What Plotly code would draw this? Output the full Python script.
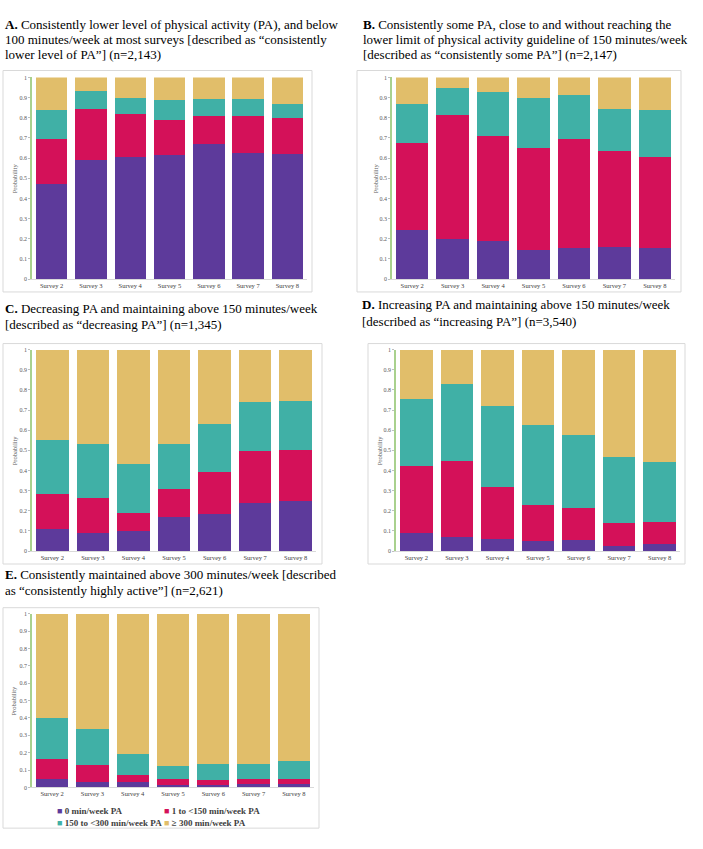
import plotly.graph_objects as go

W, H = 703, 849

surveys = ["Survey 2", "Survey 3", "Survey 4", "Survey 5", "Survey 6", "Survey 7", "Survey 8"]
categories = ["0 min/week PA", "1 to <150 min/week PA", "150 to <300 min/week PA", "≥ 300 min/week PA"]
colors = ["#5D3A9B", "#D41159", "#40B0A6", "#E1BE6A"]

# Panel A: consistently lower level of PA
a_zero = [0.471, 0.590, 0.606, 0.613, 0.669, 0.626, 0.619]
a_low = [0.226, 0.255, 0.213, 0.174, 0.140, 0.185, 0.180]
a_mid = [0.140, 0.087, 0.079, 0.099, 0.084, 0.080, 0.071]
a_high = [0.163, 0.068, 0.102, 0.114, 0.107, 0.109, 0.130]

# Panel B: consistently some PA
b_zero = [0.245, 0.198, 0.188, 0.142, 0.155, 0.160, 0.155]
b_low = [0.430, 0.616, 0.522, 0.510, 0.542, 0.473, 0.448]
b_mid = [0.192, 0.135, 0.219, 0.248, 0.216, 0.212, 0.236]
b_high = [0.133, 0.051, 0.071, 0.100, 0.087, 0.155, 0.161]

# Panel C: decreasing PA
c_zero = [0.112, 0.092, 0.102, 0.170, 0.186, 0.237, 0.247]
c_low = [0.171, 0.173, 0.089, 0.138, 0.206, 0.261, 0.254]
c_mid = [0.269, 0.264, 0.242, 0.224, 0.239, 0.240, 0.242]
c_high = [0.448, 0.471, 0.567, 0.468, 0.369, 0.262, 0.257]

# Panel D: increasing PA
d_zero = [0.091, 0.069, 0.059, 0.049, 0.053, 0.026, 0.036]
d_low = [0.332, 0.376, 0.261, 0.180, 0.161, 0.114, 0.109]
d_mid = [0.332, 0.385, 0.400, 0.395, 0.364, 0.328, 0.298]
d_high = [0.245, 0.170, 0.280, 0.376, 0.422, 0.532, 0.557]

# Panel E: consistently highly active
e_zero = [0.051, 0.034, 0.030, 0.013, 0.013, 0.019, 0.021]
e_low = [0.111, 0.096, 0.040, 0.035, 0.031, 0.029, 0.030]
e_mid = [0.240, 0.207, 0.122, 0.074, 0.091, 0.085, 0.101]
e_high = [0.598, 0.663, 0.808, 0.878, 0.865, 0.867, 0.848]

panels = [
    dict(series=[a_zero, a_low, a_mid, a_high], px=(32, 307), py=(75, 278), frame=(3, 68, 312, 291),
         title=[(3, 22, "<b>A.</b> Consistently lower level of physical activity (PA), and below"),
                (3, 37, "100 minutes/week at most surveys [described as “consistently"),
                (3, 52, "lower level of PA”] (n=2,143)")], ytitle_x=14),
    dict(series=[b_zero, b_low, b_mid, b_high], px=(392, 675), py=(75, 278), frame=(357, 68, 681, 291),
         title=[(361, 22, "<b>B.</b> Consistently some PA, close to and without reaching the"),
                (361, 37, "lower limit of physical activity guideline of 150 minutes/week"),
                (361, 52, "[described as “consistently some PA”] (n=2,147)")], ytitle_x=375),
    dict(series=[c_zero, c_low, c_mid, c_high], px=(32, 316), py=(349, 552), frame=(3, 343, 322, 565),
         title=[(3, 308, "<b>C.</b> Decreasing PA and maintaining above 150 minutes/week"),
                (3, 324, "[described as “decreasing PA”] (n=1,345)")], ytitle_x=14),
    dict(series=[d_zero, d_low, d_mid, d_high], px=(396, 680), py=(349, 552), frame=(368, 343, 685, 565),
         title=[(360, 304, "<b>D.</b> Increasing PA and maintaining above 150 minutes/week"),
                (360, 321, "[described as “increasing PA”] (n=3,540)")], ytitle_x=379),
    dict(series=[e_zero, e_low, e_mid, e_high], px=(32, 314), py=(615, 790), frame=(3, 609, 319, 831),
         title=[(3, 576, "<b>E.</b> Consistently maintained above 300 minutes/week [described"),
                (3, 592, "as “consistently highly active”] (n=2,621)")], ytitle_x=14),
]

# legend placement (left edge px, row centre px) for each category
legend_pos = [(17, 813), (124, 813), (17, 825), (124, 825)]

SERIF = "Liberation Serif, Times New Roman, serif"

fig = go.Figure()
shapes = []
annotations = []
layout_axes = {}

for i, p in enumerate(panels):
    k = "" if i == 0 else str(i + 1)
    for j, (vals, cat, col) in enumerate(zip(p["series"], categories, colors)):
        fig.add_trace(go.Bar(
            x=surveys, y=vals, name=cat, marker=dict(color=col, line=dict(width=0)),
            xaxis="x" + k, yaxis="y" + k, showlegend=False, legendgroup=cat,
            hovertemplate="%{x}<br>" + cat + ": %{y:.3f}<extra></extra>",
        ))
    x0, x1 = p["px"]
    y0, y1 = p["py"]
    layout_axes["xaxis" + k] = dict(
        domain=[x0 / W, x1 / W], anchor="y" + k, showgrid=False, zeroline=False,
        showline=True, linecolor="#D9D9D9", linewidth=1, ticks="",
        tickfont=dict(family=SERIF, size=6.5, color="#404040"), fixedrange=True,
    )
    layout_axes["yaxis" + k] = dict(
        domain=[1 - y1 / H, 1 - y0 / H], anchor="x" + k, range=[0, 1], dtick=0.1,
        showgrid=False, zeroline=False, showline=True, linecolor="#A9D18E", linewidth=1.5,
        ticks="outside", ticklen=2, tickcolor="#BFBFBF",
        tickfont=dict(family=SERIF, size=6, color="#595959"), fixedrange=True,
    )
    fx0, fy0, fx1, fy1 = p["frame"]
    shapes.append(dict(type="rect", xref="paper", yref="paper",
                       x0=fx0 / W, x1=fx1 / W, y0=1 - fy0 / H, y1=1 - fy1 / H,
                       line=dict(color="#D9D9D9", width=1), fillcolor="rgba(0,0,0,0)", layer="below"))
    for tx, ty, txt in p["title"]:
        annotations.append(dict(xref="paper", yref="paper", x=tx / W, y=1 - ty / H,
                                xanchor="left", yanchor="middle", showarrow=False, text=txt,
                                font=dict(family=SERIF, size=13, color="#000000")))
    annotations.append(dict(xref="paper", yref="paper", x=p["ytitle_x"] / W, y=1 - ((y0 + y1) / 2) / H,
                            xanchor="center", yanchor="middle", showarrow=False, text="Probability",
                            textangle=-90, font=dict(family=SERIF, size=6.5, color="#595959")))

# legend entries for panel E: a small coloured square glyph sits right before each label
legend_layouts = {}
for j, (cat, col) in enumerate(zip(categories, colors)):
    lname = "legend" if j == 0 else "legend" + str(j + 1)
    label = "<span style='color:%s'>■</span> %s" % (col, cat)
    fig.add_trace(go.Scatter(
        x=[None], y=[None], mode="markers", name=label, legendgroup=cat, legend=lname,
        marker=dict(symbol="square", size=1, color="rgba(0,0,0,0)"), xaxis="x5", yaxis="y5",
        hoverinfo="skip", showlegend=True,
    ))
    lx, ly = legend_pos[j]
    legend_layouts[lname] = dict(
        x=lx / W, y=1 - ly / H, orientation="h", xanchor="left", yanchor="middle",
        bgcolor="rgba(0,0,0,0)", itemwidth=30,
        font=dict(family=SERIF, size=9, color="#404040", weight="bold"),
        itemclick=False, itemdoubleclick=False,
    )

fig.update_layout(
    width=W, height=H, margin=dict(l=0, r=0, t=0, b=0, pad=0),
    paper_bgcolor="white", plot_bgcolor="white", barmode="stack", bargap=0.2,
    shapes=shapes, annotations=annotations,
    **legend_layouts,
    **layout_axes,
)

fig.write_html("out.html", config={"displayModeBar": False},
               post_script="document.body.style.margin='0';")
